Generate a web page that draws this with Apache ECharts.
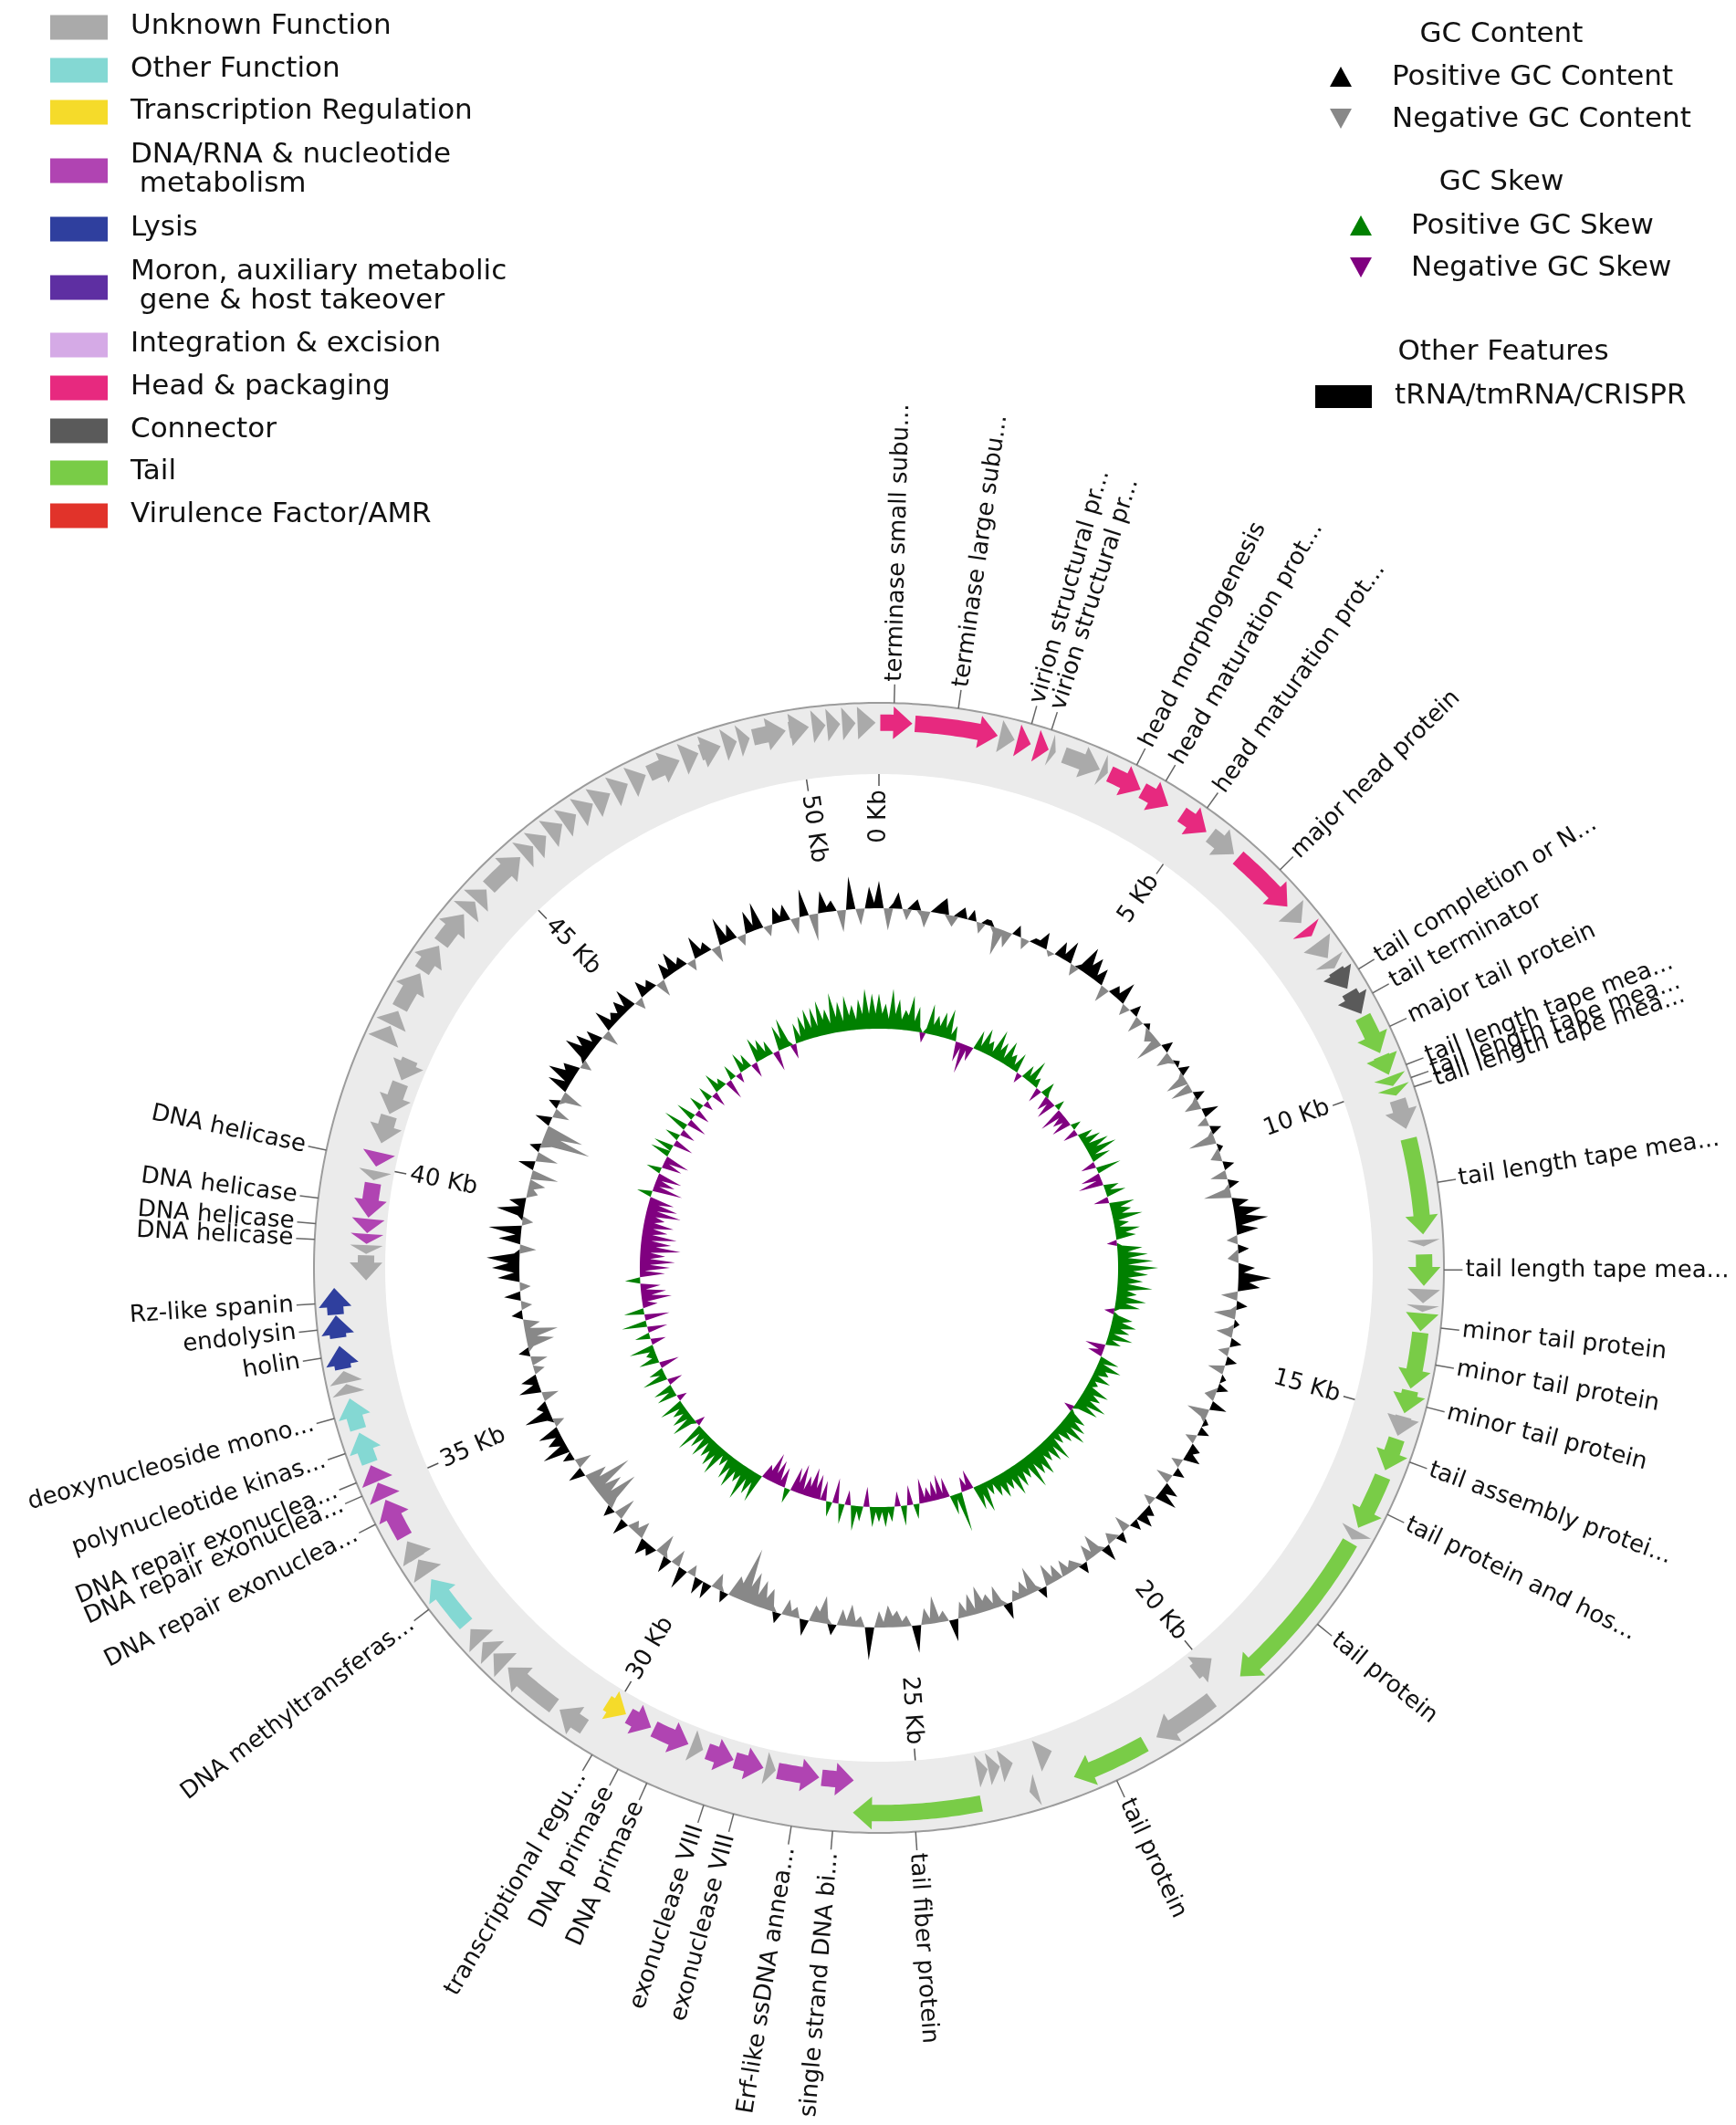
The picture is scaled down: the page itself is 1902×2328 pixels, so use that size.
<!DOCTYPE html>
<html><head><meta charset="utf-8">
<script src="https://cdn.jsdelivr.net/npm/echarts@6.0.0/dist/echarts.min.js"></script>
<style>html,body{margin:0;padding:0;background:#fff}#chart{width:1902px;height:2328px}</style>
</head><body><div id="chart"></div>
<script>
// ---------------- DATA ----------------
const GENOME_LEN = 51200;
const categoryNames = ['Unknown Function','Other Function','Transcription Regulation','DNA/RNA & nucleotide\n metabolism','Lysis','Moron, auxiliary metabolic\n gene & host takeover','Integration & excision','Head & packaging','Connector','Tail','Virulence Factor/AMR'];
const categoryColors = ['#AAAAAA','#84D8D3','#F5DB2A','#B044B2','#2F3F9E','#5E2FA2','#D5AAE6','#E7297F','#5A5A5A','#79CC47','#E1332A'];

const geneStart = [20,540,1820,2090,2380,2600,2820,3420,3560,4110,4800,5330,5860,6980,7330,7600,7920,8100,8480,8900,9550,9880,10050,10250,10850,12380,12600,13120,13360,13480,13770,14650,15050,15400,16000,16900,17100,19850,20250,21450,22800,23200,23450,23660,23860,24060,26000,26550,27250,27450,27940,28450,28700,29350,29800,30250,30800,31750,32020,32260,32600,33550,33830,34200,34850,35120,35420,35950,36500,36670,36880,37350,37700,38200,38620,38780,38950,39200,39800,40020,40400,40880,41450,41900,42170,42450,43100,43600,44200,44420,44700,45400,45620,45900,46170,46450,46720,47050,47350,47650,48200,48480,48850,49080,49300,49850,50200,50420,50650,50880];
const geneEnd = [500,1790,2050,2300,2580,2690,3400,3530,4080,4560,5250,5780,6900,7220,7470,7880,8060,8420,8850,9500,9850,10030,10180,10700,12300,12480,13070,13330,13460,13750,14620,15000,15350,15900,16850,17050,19700,20200,21250,22620,23050,23320,23650,23850,24030,25990,26510,27220,27420,27920,28380,28650,29300,29750,30150,30700,31700,32000,32230,32500,33450,33800,34120,34820,35100,35380,35900,36430,36650,36850,37230,37690,38100,38600,38760,38940,39180,39750,39950,40250,40850,41400,41800,42150,42400,43050,43550,44150,44400,44650,45350,45600,45850,46150,46400,46700,47000,47300,47600,48150,48450,48800,49050,49250,49800,50150,50400,50620,50850,51150];
const geneStrand = [1,1,1,1,1,1,1,1,1,1,1,1,1,1,1,1,1,1,1,1,1,1,1,1,1,1,1,1,1,1,1,1,1,1,1,1,1,-1,1,1,-1,1,-1,-1,-1,1,-1,-1,-1,-1,-1,-1,-1,-1,-1,1,1,1,1,1,1,1,1,1,1,1,1,1,1,1,1,1,1,-1,-1,-1,-1,-1,-1,-1,-1,-1,-1,1,1,1,1,1,1,1,1,1,1,1,1,1,1,1,1,1,1,1,1,1,1,1,1,1,1,1];
const geneCategory = [7,7,0,7,7,0,0,0,7,7,7,0,7,0,7,0,0,8,8,9,9,9,9,0,9,0,9,0,0,9,9,9,0,9,9,0,9,0,0,9,0,0,0,0,0,9,3,3,0,3,3,0,3,3,2,0,0,0,0,0,1,0,0,3,3,3,1,1,0,0,4,4,4,0,0,3,3,3,0,3,0,0,0,0,0,0,0,0,0,0,0,0,0,0,0,0,0,0,0,0,0,0,0,0,0,0,0,0,0,0];

const labelText = ['terminase small subu...','terminase large subu...','virion structural pr...','virion structural pr...','head morphogenesis','head maturation prot...','head maturation prot...','major head protein','tail completion or N...','tail terminator','major tail protein','tail length tape mea...','tail length tape mea...','tail length tape mea...','tail length tape mea...','tail length tape mea...','minor tail protein','minor tail protein','minor tail protein','tail assembly protei...','tail protein and hos...','tail protein','tail protein','tail fiber protein','single strand DNA bi...','Erf-like ssDNA annea...','exonuclease VIII','exonuclease VIII','DNA primase','DNA primase','transcriptional regu...','DNA methyltransferas...','DNA repair exonuclea...','DNA repair exonuclea...','DNA repair exonuclea...','polynucleotide kinas...','deoxynucleoside mono...','holin','endolysin','Rz-like spanin','DNA helicase','DNA helicase','DNA helicase','DNA helicase'];
const labelPos = [220,1150,2230,2530,3860,4340,5050,6430,8260,8660,9200,9800,10000,10140,11560,12830,13670,14210,14830,15660,16480,18360,22060,25070,26270,26870,27720,28170,29050,29510,29940,33110,34560,35010,35220,35670,36200,37090,37500,37880,38810,39040,39410,40110];

const tickKb = [0,5,10,15,20,25,30,35,40,45,50];

// GC content deviation (480 windows, clockwise from 0): + = black outward, - = grey inward
const gcContent = [
5,0,-4,1,3,0,-2,1,2,-1,-3,0,1,2,3,-1,-2,1,2,0,
2,0,-2,1,1,-1,-5,-1,-3,0,2,0,-2,0,1,1,3,0,-1,0,
3,1,4,0,-2,1,5,2,4,1,3,0,-3,0,2,1,4,0,-2,0,
2,0,-3,0,1,-1,-2,-1,-5,0,2,0,-3,-1,1,0,2,-1,-4,0,
-4,0,2,-1,-3,0,3,0,-2,0,2,-1,-5,0,1,-1,-2,0,2,0,
-3,0,2,-1,-5,0,3,1,5,2,6,1,4,0,-2,0,2,-1,-2,0,
3,1,6,2,4,0,-3,0,2,-1,-4,0,1,-1,-3,0,2,0,-2,0,
2,0,-3,0,1,0,2,-1,-2,0,3,0,-4,-1,1,0,2,0,-2,0,
2,1,3,0,-2,0,2,0,-3,0,3,1,4,0,-2,0,2,1,3,0,
2,0,-3,0,2,-1,-2,0,3,-1,-4,-1,-3,0,2,-1,-2,-1,-3,0,
-3,-1,-4,0,2,-1,-5,-1,-3,-1,-2,0,3,-1,-4,-1,-3,-2,-5,-1,
-4,-1,-3,0,4,0,-2,-1,-5,-1,-3,0,5,0,-2,-1,-3,-2,-4,-1,
-3,0,6,0,-2,-1,-4,-1,-3,0,2,-1,-5,-2,-3,0,3,0,-2,-1,
-3,0,2,-1,-4,-2,-5,-2,-6,-3,-10,-3,-4,0,2,-1,-3,0,3,0,
3,0,-2,0,4,0,-3,0,3,-1,-4,0,2,1,3,0,-3,-1,-2,0,
3,0,-4,0,2,-2,-7,-2,-5,-2,-8,-2,-4,0,3,0,-3,0,2,0,
5,1,3,1,4,0,-2,1,5,1,2,0,-3,0,4,1,3,0,-2,0,
-3,0,2,-1,-5,-2,-6,-1,-3,0,2,0,-2,0,3,0,-2,0,4,1,
5,2,6,1,-3,0,4,1,6,0,-2,1,5,1,3,0,-2,-1,-3,0,
-5,0,3,0,-4,0,2,-2,-9,-3,-7,0,3,0,-3,0,2,-1,-4,0,
4,1,5,2,3,0,-2,1,5,2,4,1,3,0,-3,0,4,1,2,1,
3,1,4,0,-2,0,3,1,2,0,-3,0,3,1,4,1,2,0,-2,0,
4,1,2,0,-3,0,5,1,3,0,-2,0,4,1,5,0,-2,0,3,1,
3,0,-3,0,5,0,-5,0,4,1,2,0,-4,0,6,0,-3,0,4,1];
// GC skew (480 windows): + = green outward, - = purple inward
const gcSkew = [
7,3,5,2,8,3,6,2,4,3,7,2,5,1,-2,1,6,2,4,2,
5,2,6,1,3,0,-4,-1,-6,-1,-3,0,4,1,5,2,3,1,6,2,
4,1,5,2,3,1,4,0,-2,0,3,1,5,1,2,0,-3,0,3,1,
-3,-1,-4,0,2,0,-5,-1,-3,-1,-4,0,2,0,-3,0,3,1,4,1,
5,2,6,1,4,0,-3,0,5,0,-4,-1,-5,0,3,1,4,0,-3,0,
5,2,4,2,6,1,3,1,5,2,4,0,-2,1,5,2,6,2,7,2,
8,3,6,2,5,2,7,2,4,2,6,2,5,1,-2,1,4,2,5,2,
4,1,5,1,3,0,-4,-1,-3,0,4,1,5,2,3,1,4,1,2,1,
5,2,4,2,6,2,5,1,-2,1,4,2,5,2,6,2,4,1,3,1,
6,2,5,2,4,2,6,3,5,2,7,2,4,2,5,2,6,2,4,2,
5,2,4,1,3,1,6,2,5,0,-4,-1,-3,0,8,1,4,0,-4,-1,
-5,-1,-4,-1,-3,-1,-5,0,3,0,-4,0,4,0,-3,0,3,1,4,1,
3,1,4,0,-4,0,3,1,5,0,-3,0,4,0,-5,0,3,0,-4,0,
-5,-2,-6,-2,-4,-1,-6,-2,-5,0,3,0,-4,-1,-5,-2,-6,-2,-3,0,
6,2,5,2,7,2,4,2,6,2,5,1,3,1,6,2,5,2,4,1,
5,1,4,1,6,0,-2,1,5,1,4,1,3,1,5,0,-2,0,4,1,
4,0,-3,0,5,1,3,0,-4,0,4,1,2,1,5,0,-3,0,3,0,
-4,0,5,0,-5,0,4,0,-3,-1,-6,-2,-5,-1,-4,0,3,0,-5,-1,
-6,-2,-7,-2,-5,-2,-8,-3,-6,-2,-7,-2,-5,-2,-6,-2,-4,-2,-7,-2,
-6,-2,-5,0,3,0,-6,-1,-4,-1,-5,0,3,0,-4,-1,-5,0,4,0,
4,0,-4,0,3,0,-3,0,5,0,-4,0,4,0,-3,0,3,0,-2,0,
3,0,-3,0,4,1,2,0,-4,0,3,0,-2,0,4,1,3,0,-3,0,
5,2,4,1,3,0,-4,0,5,2,6,1,-3,0,4,1,5,2,6,2,
6,2,7,3,5,2,8,3,6,2,7,3,5,2,6,3,8,3,7,3];

// ---------------- LAYOUT / STYLE ----------------
const FONT = '"DejaVu Sans"';
const R_OUT = 100, R_IN = 87.4;
const FWD = [93.6, 99.4], REV = [87.9, 93.7];
const GC_BASE = 63.65, GC_K = 0.97;
const SK_BASE = 42.33, SK_K = 0.89;
const LBL_LINE = [100, 103.3], LBL_R = 103.8;
const TICK = [87.4, 85.3], TICK_LBL_R = 84.6;
const HEAD_BP = GENOME_LEN * 2 / 360;

function pt(api, r, a) { const c = api.coord([r, a]); return [c[0], c[1]]; }
function arc(api, r, a0, a1) {
  const n = Math.max(1, Math.ceil(Math.abs(a1 - a0) / 60));
  const out = [];
  for (let k = 0; k <= n; k++) out.push(pt(api, r, a0 + (a1 - a0) * k / n));
  return out;
}
function radialText(api, r, a, text, outside, size) {
  const c = pt(api, r, a);
  const deg = a / GENOME_LEN * 360;
  const right = deg < 180;
  const rot = right ? 90 - deg : 270 - deg;
  const align = outside ? (right ? 'left' : 'right') : (right ? 'right' : 'left');
  return { type: 'text', x: c[0], y: c[1], rotation: rot * Math.PI / 180,
    style: { text: text, x: 0, y: 0, font: size + 'px ' + FONT, fill: '#111',
      align: align, textAlign: align, verticalAlign: 'middle', textVerticalAlign: 'middle' } };
}
function ringProfile(api, vals, base, k, sign) {
  const N = vals.length, step = GENOME_LEN / N;
  const prof = [], bp = [];
  for (let i = 0; i <= N; i++) {
    const v = vals[i % N];
    const vv = sign > 0 ? Math.max(v, 0) : Math.min(v, 0);
    prof.push(pt(api, base + vv * k, i * step));
    bp.push(pt(api, base, i * step));
  }
  return prof.concat(bp.reverse());
}

const chart = echarts.init(document.getElementById('chart'), null, { width: 1902, height: 2328 });

const graphic = [];
const legendRowY = [30, 77, 123, 187, 251, 315, 378, 425, 472, 518, 565];
categoryNames.forEach((name, i) => {
  const y = legendRowY[i];
  graphic.push({ type: 'rect', shape: { x: 55, y: y - 13.5, width: 63, height: 27 }, style: { fill: categoryColors[i] } });
  graphic.push({ type: 'text', x: 143, y: y - 1, style: { text: name, font: '31px ' + FONT, fill: '#111', lineHeight: 32,
    verticalAlign: 'middle', textVerticalAlign: 'middle', align: 'left', textAlign: 'left' } });
});
function tri(cx, cy, up, color) {
  const pts = up ? [[cx - 12, cy + 11], [cx + 12, cy + 11], [cx, cy - 11]] : [[cx - 12, cy - 11], [cx + 12, cy - 11], [cx, cy + 11]];
  return { type: 'polygon', shape: { points: pts }, style: { fill: color } };
}
function rtext(t, x, y, align) {
  return { type: 'text', x: x, y: y, style: { text: t, font: '31px ' + FONT, fill: '#111', align: align, textAlign: align, verticalAlign: 'middle', textVerticalAlign: 'middle' } };
}
graphic.push(rtext('GC Content', 1645, 38, 'center'));
graphic.push(rtext('GC Skew', 1645, 200, 'center'));
graphic.push(rtext('Other Features', 1647, 386, 'center'));
graphic.push(tri(1469, 84, true, '#000000'), rtext('Positive GC Content', 1525, 85, 'left'));
graphic.push(tri(1469, 130, false, '#888888'), rtext('Negative GC Content', 1525, 131, 'left'));
graphic.push(tri(1491, 247, true, '#008000'), rtext('Positive GC Skew', 1546, 248, 'left'));
graphic.push(tri(1491, 293, false, '#800080'), rtext('Negative GC Skew', 1546, 294, 'left'));
graphic.push({ type: 'rect', shape: { x: 1441, y: 422, width: 62, height: 25 }, style: { fill: '#000' } }, rtext('tRNA/tmRNA/CRISPR', 1528, 434, 'left'));

const option = {
  animation: false,
  backgroundColor: '#ffffff',
  polar: { center: [963, 1389], radius: 619 },
  angleAxis: { type: 'value', min: 0, max: GENOME_LEN, startAngle: 90, clockwise: true, show: false },
  radiusAxis: { type: 'value', min: 0, max: 100, show: false },
  graphic: graphic,
  series: [
    { // gene band background
      type: 'custom', coordinateSystem: 'polar', silent: true, z: 1, data: [[R_OUT, 0]],
      renderItem: (params, api) => {
        const outer = [], inner = [];
        for (let k = 0; k <= 720; k++) { const a = GENOME_LEN * k / 720; outer.push(pt(api, R_OUT, a)); inner.push(pt(api, R_IN, a)); }
        return { type: 'group', children: [
          { type: 'polygon', shape: { points: outer.concat(inner.slice().reverse()) }, style: { fill: '#ebebeb' } },
          { type: 'polyline', shape: { points: outer }, style: { stroke: '#9c9c9c', lineWidth: 2, fill: null } }
        ] };
      }
    },
    { // genes
      type: 'custom', coordinateSystem: 'polar', silent: true, z: 2,
      data: geneStart.map((s, i) => [93.5, (s + geneEnd[i]) / 2]),
      renderItem: (params, api) => {
        const i = params.dataIndex;
        const s = geneStart[i], e = geneEnd[i], fwd = geneStrand[i] > 0;
        const lo = fwd ? FWD[0] : REV[0], hi = fwd ? FWD[1] : REV[1];
        const mid = (lo + hi) / 2, sh = (hi - lo) / 4;
        const h = Math.min(HEAD_BP, e - s);
        let pts;
        if (fwd) {
          const neck = e - h;
          pts = arc(api, mid + sh, s, neck).concat([pt(api, hi, neck), pt(api, mid, e), pt(api, lo, neck)], arc(api, mid - sh, neck, s));
        } else {
          const neck = s + h;
          pts = arc(api, mid + sh, e, neck).concat([pt(api, hi, neck), pt(api, mid, s), pt(api, lo, neck)], arc(api, mid - sh, neck, e));
        }
        return { type: 'polygon', shape: { points: pts }, style: { fill: categoryColors[geneCategory[i]] } };
      }
    },
    { // Kb ticks
      type: 'custom', coordinateSystem: 'polar', silent: true, z: 3,
      data: tickKb.map(k => [TICK[1], k * 1000]),
      renderItem: (params, api) => {
        const a = tickKb[params.dataIndex] * 1000;
        const p0 = pt(api, TICK[0], a), p1 = pt(api, TICK[1], a);
        return { type: 'group', children: [
          { type: 'line', shape: { x1: p0[0], y1: p0[1], x2: p1[0], y2: p1[1] }, style: { stroke: '#555', lineWidth: 1.5 } },
          radialText(api, TICK_LBL_R, a, tickKb[params.dataIndex] + ' Kb', false, 26)
        ] };
      }
    },
    { // gene labels
      type: 'custom', coordinateSystem: 'polar', silent: true, z: 4,
      data: labelPos.map(p => [LBL_R, p]),
      renderItem: (params, api) => {
        const a = labelPos[params.dataIndex];
        const p0 = pt(api, LBL_LINE[0], a), p1 = pt(api, LBL_LINE[1], a);
        return { type: 'group', children: [
          { type: 'line', shape: { x1: p0[0], y1: p0[1], x2: p1[0], y2: p1[1] }, style: { stroke: '#666', lineWidth: 1.5 } },
          radialText(api, LBL_R, a, labelText[params.dataIndex], true, 26)
        ] };
      }
    },
    { // GC content
      type: 'custom', coordinateSystem: 'polar', silent: true, z: 3, data: [[GC_BASE, 0]],
      renderItem: (params, api) => ({ type: 'group', children: [
        { type: 'polygon', shape: { points: ringProfile(api, gcContent, GC_BASE, GC_K, 1) }, style: { fill: '#000000' } },
        { type: 'polygon', shape: { points: ringProfile(api, gcContent, GC_BASE, GC_K, -1) }, style: { fill: '#888888' } }
      ] })
    },
    { // GC skew
      type: 'custom', coordinateSystem: 'polar', silent: true, z: 3, data: [[SK_BASE, 0]],
      renderItem: (params, api) => ({ type: 'group', children: [
        { type: 'polygon', shape: { points: ringProfile(api, gcSkew, SK_BASE, SK_K, 1) }, style: { fill: '#008000' } },
        { type: 'polygon', shape: { points: ringProfile(api, gcSkew, SK_BASE, SK_K, -1) }, style: { fill: '#800080' } }
      ] })
    }
  ]
};
chart.setOption(option);
</script>
</body></html>
